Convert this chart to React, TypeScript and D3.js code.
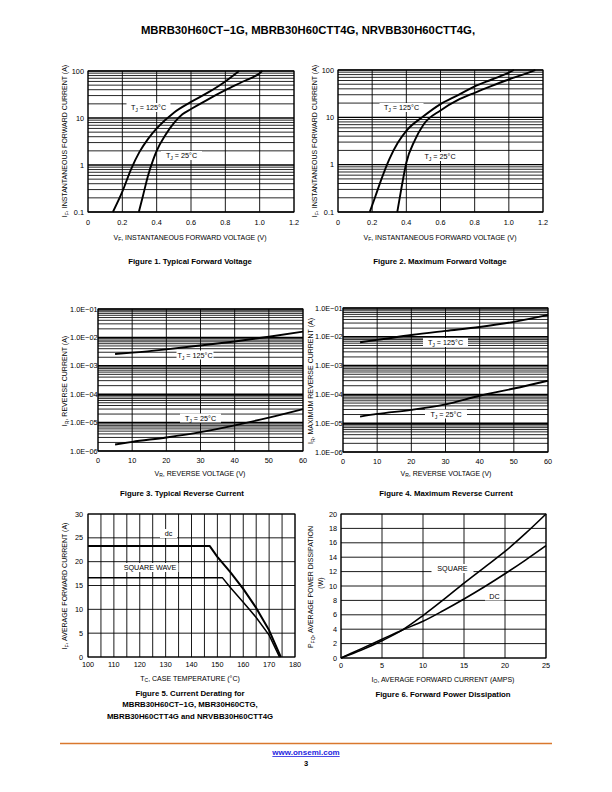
import React from "react";
import * as d3 from "d3";

type Pt = [number, number];

const FONT = "'Liberation Sans', Arial, Helvetica, sans-serif";

// ---------------- data ----------------
const fwdXTicks = [0, 0.2, 0.4, 0.6, 0.8, 1.0, 1.2];
const fwdXLabels = ["0", "0.2", "0.4", "0.6", "0.8", "1.0", "1.2"];
const fwdYTicks = [0.1, 1, 10, 100];
const fwdYLabels = ["0.1", "1", "10", "100"];

const fig1Tj125: Pt[] = [[0.145, 0.1], [0.2, 0.27], [0.25, 0.8], [0.3, 1.9], [0.35, 3.6], [0.4, 6], [0.5, 13], [0.6, 22], [0.7, 35], [0.8, 60], [0.88, 100]];
const fig1Tj25: Pt[] = [[0.296, 0.1], [0.32, 0.22], [0.35, 0.6], [0.38, 1.3], [0.4, 2.0], [0.45, 4.3], [0.5, 7.8], [0.55, 12], [0.6, 15.5], [0.7, 25], [0.8, 39], [0.9, 59], [1.0, 90], [1.015, 100]];

const fig2Tj125: Pt[] = [[0.186, 0.1], [0.22, 0.22], [0.25, 0.45], [0.3, 1.3], [0.35, 2.9], [0.4, 5.2], [0.5, 10.5], [0.6, 19], [0.7, 29], [0.8, 45], [0.9, 63], [1.0, 88], [1.03, 100]];
const fig2Tj25: Pt[] = [[0.347, 0.1], [0.37, 0.3], [0.4, 1.1], [0.45, 3.3], [0.5, 7], [0.6, 14], [0.7, 23], [0.8, 33], [0.9, 46], [1.0, 63], [1.1, 84], [1.155, 100]];

const revXTicks = [0, 10, 20, 30, 40, 50, 60];
const revYTicks = [1e-6, 1e-5, 1e-4, 1e-3, 1e-2, 1e-1];
const revYLabels = ["1.0E\u221206", "1.0E\u221205", "1.0E\u221204", "1.0E\u221203", "1.0E\u221202", "1.0E\u221201"];

const fig3Tj125: Pt[] = [[5, 2.6e-3], [10, 2.9e-3], [20, 3.8e-3], [30, 5.2e-3], [40, 7.2e-3], [50, 1.05e-2], [60, 1.6e-2]];
const fig3Tj25: Pt[] = [[5, 1.7e-6], [10, 2.1e-6], [20, 3.0e-6], [30, 4.6e-6], [40, 8e-6], [50, 1.5e-5], [60, 3e-5]];

const fig4Tj125: Pt[] = [[5, 6.5e-3], [10, 7.8e-3], [20, 1.15e-2], [30, 1.6e-2], [40, 2.2e-2], [50, 3.3e-2], [60, 5.8e-2]];
const fig4Tj25: Pt[] = [[5, 1.7e-5], [10, 2.1e-5], [20, 2.9e-5], [30, 4.5e-5], [40, 9e-5], [50, 1.6e-4], [60, 3e-4]];

const fig5XTicks = [100, 110, 120, 130, 140, 150, 160, 170, 180];
const fig5YTicks = [0, 5, 10, 15, 20, 25, 30];
const fig5Dc: Pt[] = [[100, 23.3], [147, 23.3], [150, 21], [155, 17.8], [160, 14.3], [165, 10.3], [170, 5.6], [174.5, 0]];
const fig5Square: Pt[] = [[100, 16.6], [152, 16.6], [155, 14.6], [160, 11.5], [165, 8.3], [170, 4.6], [174, 0]];

const fig6XTicks = [0, 5, 10, 15, 20, 25];
const fig6YTicks = [0, 2, 4, 6, 8, 10, 12, 14, 16, 18, 20];
const fig6Square: Pt[] = [[0, 0], [2.5, 1.1], [5, 2.4], [7.5, 3.9], [10, 5.9], [12.5, 8.1], [15, 10.4], [17.5, 12.6], [20, 14.8], [22.5, 17.3], [25, 20]];
const fig6Dc: Pt[] = [[0, 0], [2.5, 1.3], [5, 2.6], [7.5, 3.9], [10, 5.1], [12.5, 6.6], [15, 8.2], [17.5, 9.9], [20, 11.7], [22.5, 13.6], [25, 15.6]];

// ---------------- helpers ----------------
type Box = { l: number; r: number; t: number; b: number };

function logLines(lo: number, hi: number) {
  const out: { v: number; major: boolean }[] = [];
  const e0 = Math.round(Math.log10(lo));
  const e1 = Math.round(Math.log10(hi));
  for (let e = e0; e < e1; e++) {
    for (let k = 1; k < 10; k++) out.push({ v: k * Math.pow(10, e), major: k === 1 });
  }
  out.push({ v: hi, major: true });
  return out;
}

const TICK = 7.3;
const TITLE = 7;

function SubText(props: {
  x: number; y: number; main: string; sub: string; rest: string;
  size?: number; anchor?: string; rotate?: boolean; weight?: string;
}) {
  const size = props.size ?? TITLE;
  const sz = size * 0.72;
  const dy = size * 0.28;
  const tr = props.rotate ? `translate(${props.x},${props.y}) rotate(-90)` : `translate(${props.x},${props.y})`;
  return (
    <text transform={tr} fontSize={size} fontFamily={FONT} textAnchor={props.anchor ?? "middle"} fill="#000" fontWeight={props.weight}>
      {props.main}
      <tspan fontSize={sz} dy={dy}>{props.sub}</tspan>
      <tspan dy={-dy}>{props.rest}</tspan>
    </text>
  );
}

function BoxLabel(props: { cx: number; cy: number; w: number; h?: number; main: string; sub?: string; rest?: string }) {
  const h = props.h ?? 9;
  return (
    <g>
      <rect x={props.cx - props.w / 2} y={props.cy - h / 2} width={props.w} height={h} fill="#fff" />
      {props.sub ? (
        <SubText x={props.cx} y={props.cy + 2.6} main={props.main} sub={props.sub} rest={props.rest ?? ""} size={7.2} />
      ) : (
        <text x={props.cx} y={props.cy + 2.6} fontSize={7.2} fontFamily={FONT} textAnchor="middle">{props.main}</text>
      )}
    </g>
  );
}

function Curve({ data, x, y, width, curve }: { data: Pt[]; x: any; y: any; width: number; curve?: any }) {
  const gen = d3.line<Pt>().x((d) => x(d[0])).y((d) => y(d[1])).curve(curve ?? d3.curveMonotoneX);
  return <path d={gen(data) ?? ""} fill="none" stroke="#000" strokeWidth={width} strokeLinejoin="round" />;
}

// ---------------- panels ----------------
function ForwardPanel({ box, d125, d25, l125, l25 }: { box: Box; d125: Pt[]; d25: Pt[]; l125: [number, number, number]; l25: [number, number, number] }) {
  const x = d3.scaleLinear().domain([0, 1.2]).range([box.l, box.r]);
  const y = d3.scaleLog().domain([0.1, 100]).range([box.b, box.t]);
  return (
    <g>
      {logLines(0.1, 100).map((g, i) => (
        <line key={"h" + i} x1={box.l} x2={box.r} y1={y(g.v)} y2={y(g.v)} stroke="#000" strokeWidth={g.major ? 1.4 : 0.85} />
      ))}
      {fwdXTicks.map((v, i) => (
        <line key={"v" + i} x1={x(v)} x2={x(v)} y1={box.t} y2={box.b} stroke="#000" strokeWidth={0.9} />
      ))}
      <rect x={box.l} y={box.t} width={box.r - box.l} height={box.b - box.t} fill="none" stroke="#000" strokeWidth={1} />
      <BoxLabel cx={l125[0]} cy={l125[1]} w={l125[2]} main="T" sub="J" rest=" = 125°C" />
      <BoxLabel cx={l25[0]} cy={l25[1]} w={l25[2]} main="T" sub="J" rest=" = 25°C" />
      <Curve data={d125} x={x} y={y} width={1.9} />
      <Curve data={d25} x={x} y={y} width={1.9} />
      {fwdXTicks.map((v, i) => (
        <text key={"xt" + i} x={x(v)} y={box.b + 12.5} fontSize={TICK} fontFamily={FONT} textAnchor="middle">{fwdXLabels[i]}</text>
      ))}
      {fwdYTicks.map((v, i) => (
        <text key={"yt" + i} x={box.l - 4} y={y(v) + 2.6} fontSize={TICK} fontFamily={FONT} textAnchor="end">{fwdYLabels[i]}</text>
      ))}
    </g>
  );
}

function ReversePanel({ box, d125, d25, l125, l25 }: { box: Box; d125: Pt[]; d25: Pt[]; l125: [number, number, number]; l25: [number, number, number] }) {
  const x = d3.scaleLinear().domain([0, 60]).range([box.l, box.r]);
  const y = d3.scaleLog().domain([1e-6, 1e-1]).range([box.b, box.t]);
  return (
    <g>
      {logLines(1e-6, 1e-1).map((g, i) => (
        <line key={"h" + i} x1={box.l} x2={box.r} y1={y(g.v)} y2={y(g.v)} stroke="#000" strokeWidth={g.major ? 1.5 : 0.85} />
      ))}
      {revXTicks.map((v, i) => (
        <line key={"v" + i} x1={x(v)} x2={x(v)} y1={box.t} y2={box.b} stroke="#000" strokeWidth={0.9} />
      ))}
      <rect x={box.l} y={box.t} width={box.r - box.l} height={box.b - box.t} fill="none" stroke="#000" strokeWidth={1} />
      <Curve data={d125} x={x} y={y} width={1.9} />
      <Curve data={d25} x={x} y={y} width={1.9} />
      <BoxLabel cx={l125[0]} cy={l125[1]} w={l125[2]} main="T" sub="J" rest=" = 125°C" />
      <BoxLabel cx={l25[0]} cy={l25[1]} w={l25[2]} main="T" sub="J" rest=" = 25°C" />
      {revXTicks.map((v, i) => (
        <text key={"xt" + i} x={x(v)} y={box.b + 12} fontSize={TICK} fontFamily={FONT} textAnchor="middle">{String(v)}</text>
      ))}
      {revYTicks.map((v, i) => (
        <text key={"yt" + i} x={box.l - 0.5} y={y(v) + 2.6} fontSize={TICK} fontFamily={FONT} textAnchor="end">{revYLabels[i]}</text>
      ))}
    </g>
  );
}

function DeratingPanel({ box }: { box: Box }) {
  const x = d3.scaleLinear().domain([100, 180]).range([box.l, box.r]);
  const y = d3.scaleLinear().domain([0, 30]).range([box.b, box.t]);
  const xGrid = d3.range(100, 181, 5);
  return (
    <g>
      {fig5YTicks.map((v, i) => (
        <line key={"h" + i} x1={box.l} x2={box.r} y1={y(v)} y2={y(v)} stroke="#000" strokeWidth={0.9} />
      ))}
      {xGrid.map((v, i) => (
        <line key={"v" + i} x1={x(v)} x2={x(v)} y1={box.t} y2={box.b} stroke="#000" strokeWidth={0.9} />
      ))}
      <rect x={box.l} y={box.t} width={box.r - box.l} height={box.b - box.t} fill="none" stroke="#000" strokeWidth={1} />
      <BoxLabel cx={168.5} cy={533.5} w={17} main="dc" />
      <BoxLabel cx={150} cy={567.5} w={57} main="SQUARE WAVE" />
      <Curve data={fig5Dc} x={x} y={y} width={2} curve={d3.curveLinear} />
      <Curve data={fig5Square} x={x} y={y} width={1.5} curve={d3.curveLinear} />
      {fig5XTicks.map((v, i) => (
        <text key={"xt" + i} x={x(v)} y={box.b + 10} fontSize={TICK} fontFamily={FONT} textAnchor="middle">{String(v)}</text>
      ))}
      {fig5YTicks.map((v, i) => (
        <text key={"yt" + i} x={box.l - 5} y={y(v) + 2.6} fontSize={TICK} fontFamily={FONT} textAnchor="end">{String(v)}</text>
      ))}
    </g>
  );
}

function PowerPanel({ box }: { box: Box }) {
  const x = d3.scaleLinear().domain([0, 25]).range([box.l, box.r]);
  const y = d3.scaleLinear().domain([0, 20]).range([box.b, box.t]);
  return (
    <g>
      {fig6YTicks.map((v, i) => (
        <line key={"h" + i} x1={box.l} x2={box.r} y1={y(v)} y2={y(v)} stroke="#000" strokeWidth={0.9} />
      ))}
      {fig6XTicks.map((v, i) => (
        <line key={"v" + i} x1={x(v)} x2={x(v)} y1={box.t} y2={box.b} stroke="#000" strokeWidth={0.9} />
      ))}
      <rect x={box.l} y={box.t} width={box.r - box.l} height={box.b - box.t} fill="none" stroke="#000" strokeWidth={1} />
      <BoxLabel cx={452.5} cy={568.5} w={42} main="SQUARE" />
      <BoxLabel cx={494.5} cy={596} w={19} main="DC" />
      <Curve data={fig6Square} x={x} y={y} width={1.6} />
      <Curve data={fig6Dc} x={x} y={y} width={1.6} />
      {fig6XTicks.map((v, i) => (
        <text key={"xt" + i} x={x(v)} y={box.b + 10} fontSize={TICK} fontFamily={FONT} textAnchor="middle">{String(v)}</text>
      ))}
      {fig6YTicks.map((v, i) => (
        <text key={"yt" + i} x={box.l - 4} y={y(v) + 2.6} fontSize={TICK} fontFamily={FONT} textAnchor="end">{String(v)}</text>
      ))}
    </g>
  );
}

function Caption({ x, y, text }: { x: number; y: number; text: string }) {
  return <text x={x} y={y} fontSize={7.8} fontWeight="bold" fontFamily={FONT} textAnchor="middle">{text}</text>;
}

export default function App() {
  const b1: Box = { l: 88, r: 294, t: 71, b: 212 };
  const b2: Box = { l: 338, r: 543, t: 70, b: 212 };
  const b3: Box = { l: 98, r: 303, t: 309, b: 451 };
  const b4: Box = { l: 343, r: 548, t: 308, b: 452 };
  const b5: Box = { l: 88, r: 295, t: 514, b: 657 };
  const b6: Box = { l: 341, r: 546, t: 514, b: 658 };
  return (
    <svg width={612} height={792} viewBox="0 0 612 792" style={{ position: "absolute", left: 0, top: 0, background: "#fff" }}>
      <rect width={612} height={792} fill="#fff" />
      <text x={308} y={34} fontSize={11.3} fontWeight="bold" fontFamily={FONT} textAnchor="middle">
        MBRB30H60CT{"\u2212"}1G, MBRB30H60CTT4G, NRVBB30H60CTT4G,
      </text>

      {/* Figure 1 */}
      <ForwardPanel box={b1} d125={fig1Tj125} d25={fig1Tj25} l125={[148.5, 107.5, 44]} l25={[181.5, 155.5, 41]} />
      <SubText x={190} y={239.5} main="V" sub="F" rest=", INSTANTANEOUS FORWARD VOLTAGE (V)" />
      <SubText x={67} y={141} main="I" sub="F" rest=", INSTANTANEOUS FORWARD CURRENT (A)" rotate />
      <Caption x={190} y={264} text="Figure 1. Typical Forward Voltage" />

      {/* Figure 2 */}
      <ForwardPanel box={b2} d125={fig2Tj125} d25={fig2Tj25} l125={[401.5, 107.5, 44]} l25={[440, 156.5, 41]} />
      <SubText x={440} y={239.5} main="V" sub="F" rest=", INSTANTANEOUS FORWARD VOLTAGE (V)" />
      <SubText x={317} y={141} main="I" sub="F" rest=", INSTANTANEOUS FORWARD CURRENT (A)" rotate />
      <Caption x={440} y={264} text="Figure 2. Maximum Forward Voltage" />

      {/* Figure 3 */}
      <ReversePanel box={b3} d125={fig3Tj125} d25={fig3Tj25} l125={[195, 355, 37]} l25={[200.5, 418, 41]} />
      <SubText x={200} y={475.5} main="V" sub="R" rest=", REVERSE VOLTAGE (V)" />
      <SubText x={67} y={381} main="I" sub="R" rest=", REVERSE CURRENT (A)" rotate />
      <Caption x={182} y={496} text="Figure 3. Typical Reverse Current" />

      {/* Figure 4 */}
      <ReversePanel box={b4} d125={fig4Tj125} d25={fig4Tj25} l125={[445.5, 342.5, 45]} l25={[446, 414, 42]} />
      <SubText x={446} y={475.5} main="V" sub="R" rest=", REVERSE VOLTAGE (V)" />
      <SubText x={313} y={381} main="I" sub="R" rest=", MAXIMUM REVERSE CURRENT (A)" rotate />
      <Caption x={446} y={496} text="Figure 4. Maximum Reverse Current" />

      {/* Figure 5 */}
      <DeratingPanel box={b5} />
      <SubText x={190} y={680.5} main="T" sub="C" rest=", CASE TEMPERATURE (°C)" />
      <SubText x={67} y={586} main="I" sub="F" rest=", AVERAGE FORWARD CURRENT (A)" rotate />
      <Caption x={190} y={696} text="Figure 5. Current Derating for" />
      <Caption x={190} y={707} text={"MBRB30H60CT\u22121G, MBR30H60CTG,"} />
      <Caption x={190} y={718.5} text="MBRB30H60CTT4G and NRVBB30H60CTT4G" />

      {/* Figure 6 */}
      <PowerPanel box={b6} />
      <SubText x={443} y={681.5} main="I" sub="O" rest=", AVERAGE FORWARD CURRENT (AMPS)" />
      <SubText x={313} y={587} main="P" sub="FO" rest=", AVERAGE POWER DISSIPATION" rotate />
      <text transform="translate(322.5,583) rotate(-90)" fontSize={TITLE} fontFamily={FONT} textAnchor="middle">(W)</text>
      <Caption x={443} y={697} text="Figure 6. Forward Power Dissipation" />

      {/* footer */}
      <line x1={60} x2={552} y1={743.5} y2={743.5} stroke="#d9782d" strokeWidth={1.6} />
      <text x={306} y={755} fontSize={8} fontWeight="bold" fontFamily={FONT} textAnchor="middle" fill="#1f1fe0" textDecoration="underline">www.onsemi.com</text>
      <text x={306} y={765.5} fontSize={7.5} fontWeight="bold" fontFamily={FONT} textAnchor="middle">3</text>
    </svg>
  );
}
